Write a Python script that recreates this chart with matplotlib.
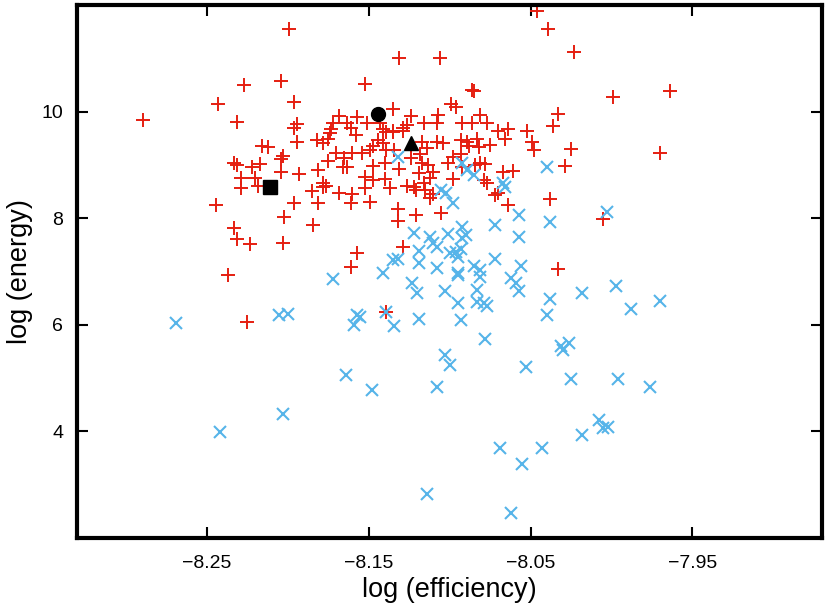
import matplotlib
matplotlib.use("Agg")
import matplotlib.pyplot as plt

plt.rcParams['font.family'] = ['Liberation Sans', 'DejaVu Sans']

# red "+" series: log efficiency / log energy
red_x = [
    -8.199, -8.204, -8.227, -8.243, -8.196, -8.289, -8.231, -8.194, -8.196, -8.216,
    -8.212, -8.194, -8.182, -8.178, -8.203, -8.204, -8.233, -8.231, -8.222, -8.217,
    -8.229, -8.220, -8.204, -8.193, -8.181, -8.229, -8.218, -8.178, -8.176, -8.178,
    -8.185, -8.168, -8.160, -8.244, -8.196, -8.181, -8.161, -8.202, -8.184, -8.233,
    -8.231, -8.223, -8.203, -8.161, -8.237, -8.168, -8.157, -8.172, -8.173, -8.174,
    -8.175, -8.163, -8.161, -8.158, -8.151, -8.143, -8.135, -8.141, -8.139, -8.135,
    -8.170, -8.165, -8.175, -8.166, -8.163, -8.160, -8.154, -8.147, -8.144, -8.141,
    -8.139, -8.149, -8.147, -8.140, -8.152, -8.147, -8.140, -8.152, -8.137, -8.149,
    -8.157, -8.132, -8.132, -8.085, -8.099, -8.096, -8.124, -8.126, -8.129, -8.129,
    -8.135, -8.116, -8.107, -8.108, -8.092, -8.086, -8.081, -8.077, -8.070, -8.064,
    -8.066, -8.052, -8.049, -8.048, -8.036, -8.033, -8.117, -8.114, -8.108, -8.104,
    -8.093, -8.089, -8.088, -8.083, -8.082, -8.075, -8.134, -8.124, -8.118, -8.131,
    -8.117, -8.113, -8.110, -8.112, -8.119, -8.116, -8.122, -8.126, -8.115, -8.110,
    -8.112, -8.121, -8.101, -8.098, -8.093, -8.092, -8.098, -8.084, -8.081, -8.078,
    -8.079, -8.077, -8.067, -8.061, -8.070, -8.072, -8.064, -8.105, -8.121, -8.129,
    -8.038, -8.046, -8.039, -8.023, -8.131, -8.106, -8.152, -8.086, -7.999, -8.025,
    -8.029, -8.005, -8.033, -7.964, -7.970, -8.225, -8.139,
]
red_y = [
    11.54, 10.58, 10.49, 10.15, 10.17, 9.85, 9.81, 9.76, 9.70, 9.36,
    9.34, 9.42, 9.46, 9.40, 9.16, 9.10, 9.03, 8.99, 8.95, 9.01,
    8.76, 8.76, 8.86, 8.82, 8.91, 8.56, 8.61, 8.65, 8.61, 8.58,
    8.50, 8.48, 8.46, 8.24, 8.28, 8.28, 8.28, 8.03, 7.88, 7.81,
    7.60, 7.51, 7.53, 7.08, 6.93, 9.91, 9.89, 9.78, 9.68, 9.59,
    9.49, 9.79, 9.70, 9.55, 9.78, 9.79, 10.04, 9.68, 9.61, 9.64,
    9.23, 9.12, 9.08, 8.95, 8.95, 9.23, 9.23, 9.36, 9.46, 9.40,
    9.27, 9.27, 8.97, 9.03, 8.78, 8.71, 8.73, 8.56, 8.56, 8.31,
    7.34, 8.18, 7.94, 10.39, 10.15, 10.08, 9.91, 9.74, 9.70, 9.64,
    9.61, 9.79, 9.93, 9.78, 9.79, 9.78, 9.93, 9.79, 9.64, 9.68,
    9.48, 9.64, 9.42, 9.27, 9.72, 9.96, 9.42, 9.31, 9.42, 9.40,
    9.46, 9.42, 9.36, 9.49, 9.33, 9.38, 9.27, 9.12, 9.21, 8.93,
    9.04, 8.99, 8.86, 8.76, 8.84, 8.65, 8.58, 8.61, 8.52, 8.46,
    8.37, 8.52, 9.04, 9.14, 9.21, 8.95, 8.73, 8.99, 9.03, 9.01,
    8.71, 8.65, 8.86, 8.89, 8.48, 8.43, 8.24, 8.09, 8.05, 7.45,
    8.35, 11.89, 11.54, 11.11, 11.01, 11.01, 10.51, 10.41, 10.28, 9.29,
    8.97, 7.99, 7.04, 10.39, 9.23, 6.06, 6.23,
]

# blue "x" series
blue_x = [
    -8.269, -8.242, -8.205, -8.200, -8.203, -8.172, -8.164, -8.159, -8.157, -8.155,
    -8.148, -8.141, -8.135, -8.132, -8.132, -8.134, -8.139, -8.123, -8.120, -8.122,
    -8.112, -8.110, -8.108, -8.101, -8.119, -8.119, -8.119, -8.108, -8.108, -8.105,
    -8.102, -8.098, -8.100, -8.096, -8.093, -8.095, -8.092, -8.090, -8.092, -8.103,
    -8.103, -8.100, -8.095, -8.095, -8.095, -8.093, -8.092, -8.089, -8.085, -8.085,
    -8.081, -8.081, -8.083, -8.083, -8.079, -8.077, -8.078, -8.072, -8.072, -8.069,
    -8.067, -8.066, -8.062, -8.059, -8.057, -8.057, -8.057, -8.056, -8.062, -8.055,
    -8.053, -8.114, -8.043, -8.040, -8.040, -8.038, -8.038, -8.031, -8.026, -8.030,
    -8.025, -8.018, -8.018, -8.008, -8.005, -8.002, -8.003, -7.997, -7.996, -7.988,
    -7.970, -7.976,
]
blue_y = [
    6.04, 3.98, 6.18, 6.21, 4.32, 6.85, 5.05, 5.99, 6.18, 6.14,
    4.77, 6.98, 7.21, 7.24, 9.14, 5.97, 6.23, 6.79, 6.59, 7.73,
    7.64, 7.53, 7.45, 7.71, 7.39, 7.15, 6.10, 7.06, 4.83, 8.52,
    8.48, 8.29, 7.34, 7.36, 7.43, 7.28, 7.83, 7.69, 7.62, 6.63,
    5.44, 5.24, 6.98, 6.93, 6.40, 6.08, 9.03, 8.91, 8.80, 7.11,
    7.02, 6.89, 6.66, 6.42, 6.40, 6.36, 5.74, 7.88, 7.24, 3.68,
    8.65, 8.58, 6.87, 6.79, 6.64, 8.05, 7.64, 7.11, 2.46, 3.38,
    5.20, 2.82, 3.68, 8.95, 6.19, 7.92, 6.48, 5.61, 5.65, 5.52,
    4.99, 3.94, 6.59, 4.21, 4.06, 4.08, 8.11, 6.72, 4.98, 6.29,
    6.44, 4.84,
]

# three highlighted points
mark_x = [-8.211, -8.144, -8.124]
mark_y = [8.58, 9.96, 9.40]
mark_style = ['s', 'o', '^']

fig = plt.figure(figsize=(8.31, 6.11), dpi=100)
ax = fig.add_axes([0.0927, 0.1195, 0.8965, 0.8725])

ax.plot(red_x, red_y, '+', color='#e51e10', markersize=9.5, markeredgewidth=1.4, linestyle='none')
ax.plot(blue_x, blue_y, 'x', color='#56b4e9', markersize=8.5, markeredgewidth=1.5, linestyle='none')
for mx, my, ms in zip(mark_x, mark_y, mark_style):
    ax.plot(mx, my, ms, color='black', markersize=10, linestyle='none')

ax.set_xlim(-8.33, -7.87)
ax.set_ylim(2, 12)
ax.set_xticks([-8.25, -8.15, -8.05, -7.95])
ax.set_yticks([4, 6, 8, 10])
ax.tick_params(direction='in', length=8, width=1.5, top=True, right=True,
               labelsize=14)
ax.tick_params(axis='x', pad=12)
ax.tick_params(axis='y', pad=10)
for sp in ax.spines.values():
    sp.set_linewidth(3)

ax.set_xlabel('log (efficiency)', fontsize=19.5, labelpad=4)
ax.set_ylabel('log (energy)', fontsize=19.5, labelpad=6)

fig.savefig('out.png', dpi=100)
